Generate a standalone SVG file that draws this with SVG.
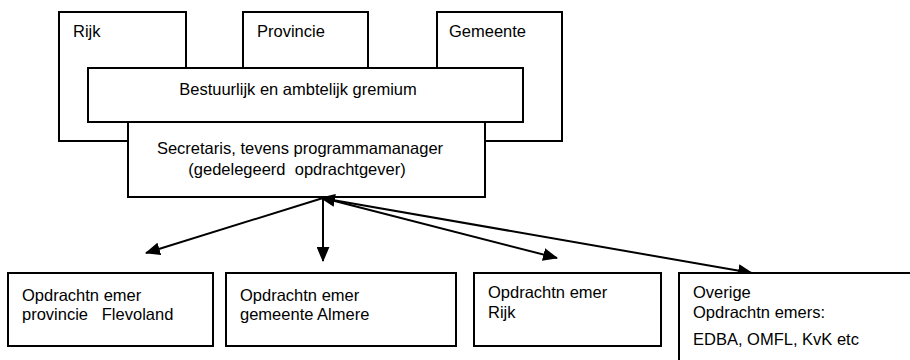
<svg xmlns="http://www.w3.org/2000/svg" width="910" height="360" viewBox="0 0 910 360">
<style>
.box{fill:#fff;stroke:#000;stroke-width:2}
.t{font-family:"Liberation Sans",Arial,sans-serif;font-size:16.5px;fill:#000}
.b{font-size:16.5px}
.c{text-anchor:middle}
.ln{stroke:#000;stroke-width:2;fill:none}
</style>
<defs>
<marker id="ah" viewBox="0 0 14 12" refX="13" refY="6" markerWidth="15" markerHeight="13" markerUnits="userSpaceOnUse" orient="auto-start-reverse">
<path d="M0,0 L14,6 L0,12 z" fill="#000"/>
</marker>
</defs>
<rect width="910" height="360" fill="#fff"/>
<g id="rijk"><rect class="box" x="59" y="12" width="127" height="129"/><text class="t" x="73" y="37">Rijk</text></g>
<g id="provincie"><rect class="box" x="243" y="12" width="125" height="60"/><text class="t" x="257" y="37">Provincie</text></g>
<g id="gemeente"><rect class="box" x="437" y="12" width="125" height="129"/><text class="t" x="449" y="37">Gemeente</text></g>
<g id="gremium"><rect class="box" x="88" y="68" width="435" height="54"/><text class="t c" x="298" y="95">Bestuurlijk en ambtelijk gremium</text></g>
<g id="secretaris"><rect class="box" x="128" y="122" width="357" height="75"/><text class="t c" x="300" y="154">Secretaris, tevens programmamanager</text><text class="t c" x="297" y="175" xml:space="preserve">(gedelegeerd  opdrachtgever)</text></g>
<g id="connectors">
<line class="ln" x1="323" y1="198" x2="146" y2="253" marker-end="url(#ah)"/>
<line class="ln" x1="323" y1="198" x2="323" y2="261" marker-end="url(#ah)"/>
<line class="ln" x1="323" y1="198" x2="557" y2="258" marker-end="url(#ah)"/>
<line class="ln" x1="321" y1="198" x2="752" y2="273" marker-start="url(#ah)" marker-end="url(#ah)"/>
</g>
<g id="on-provincie"><rect class="box" x="8" y="273" width="205" height="73"/><text class="t b" x="22" y="301">Opdrachtn emer</text><text class="t b" x="22" y="320" xml:space="preserve">provincie   Flevoland</text></g>
<g id="on-gemeente"><rect class="box" x="226" y="273" width="230" height="73"/><text class="t b" x="240" y="301">Opdrachtn emer</text><text class="t b" x="240" y="320">gemeente Almere</text></g>
<g id="on-rijk"><rect class="box" x="474" y="273" width="187" height="73"/><text class="t b" x="488" y="298">Opdrachtn emer</text><text class="t b" x="488" y="318">Rijk</text></g>
<g id="on-overige"><rect class="box" x="679" y="273" width="250" height="100"/><text class="t b" x="693" y="298">Overige</text><text class="t b" x="693" y="318">Opdrachtn emers:</text><text class="t b" x="693" y="345">EDBA, OMFL, KvK etc</text></g>
</svg>
